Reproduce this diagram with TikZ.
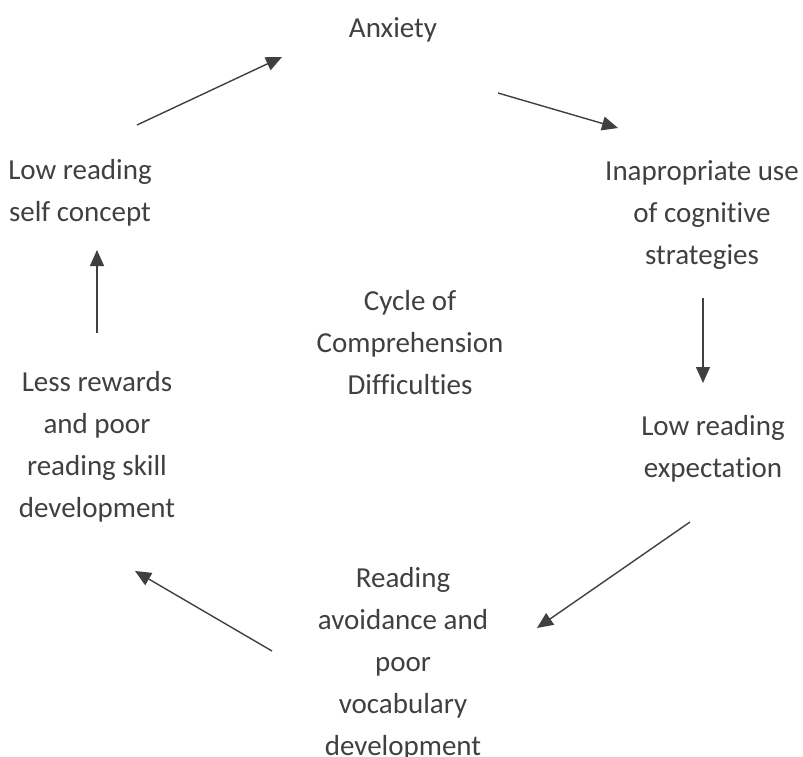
\documentclass[tikz,border=0pt]{standalone}
\usepackage{fontspec}
\setmainfont{Carlito}[Ligatures=NoCommon]
\usetikzlibrary{arrows.meta}
\definecolor{ink}{HTML}{404040}
\begin{document}
\begin{tikzpicture}[x=1pt,y=-1pt,
  label/.style={text=ink,align=center,inner sep=0pt,
    font=\fontsize{29}{42}\selectfont},
  flow/.style={draw=ink,line width=1.4pt,
    -{Triangle[length=16pt,width=14pt]}}]
  \useasboundingbox (0,0) rectangle (803,757);

  % stages of the cycle
  \node[label] (anx) at (393,30) {Anxiety};
  \node[label] (cog) at (702,215) {Inapropriate use\\of cognitive\\strategies};
  \node[label] (exp) at (713,449) {Low reading\\expectation};
  \node[label] (avo) at (403,664) {Reading\\avoidance and\\poor\\vocabulary\\development};
  \node[label] (rew) at (97,447) {Less rewards\\and poor\\reading skill\\development};
  \node[label] (slf) at (80,193) {Low reading\\self concept};
  \node[label] (mid) at (410,343) {Cycle of\\Comprehension\\Difficulties};

  % arrow end points
  \coordinate (a1) at (137,125); \coordinate (b1) at (282,57);
  \coordinate (a2) at (498,93);  \coordinate (b2) at (618,128);
  \coordinate (a3) at (703,298); \coordinate (b3) at (703,383);
  \coordinate (a4) at (690,522); \coordinate (b4) at (537,628);
  \coordinate (a5) at (272,651); \coordinate (b5) at (135,571);
  \coordinate (a6) at (97,333);  \coordinate (b6) at (97,250);

  \draw[flow] (a1) -- (b1);
  \draw[flow] (a2) -- (b2);
  \draw[flow] (a3) -- (b3);
  \draw[flow] (a4) -- (b4);
  \draw[flow] (a5) -- (b5);
  \draw[flow] (a6) -- (b6);
\end{tikzpicture}
\end{document}
